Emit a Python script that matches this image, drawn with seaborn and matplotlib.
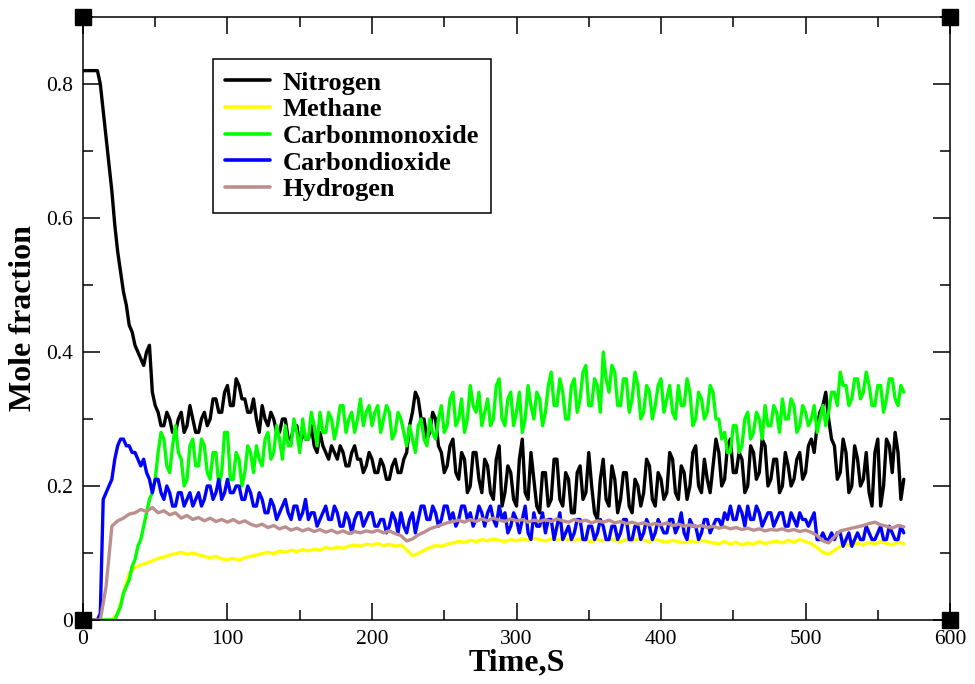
import numpy as np
import pandas as pd
import seaborn as sns
import matplotlib.pyplot as plt
from matplotlib.ticker import MultipleLocator, FuncFormatter

# noisy gases sampled every 2 s, smooth ones every 4 s (0..568 s)
time2 = np.arange(0, 570, 2)
time4 = np.arange(0, 572, 4)

nitrogen = [.82, .82, .82, .82, .82, .82, .80, .76, .72, .68, .64, .59, .55, .52, .49, .47, .44, .43, .41, .40,
            .39, .38, .40, .41, .34, .32, .31, .29, .29, .31, .30, .28, .28, .30, .31, .28, .29, .32, .30, .28,
            .28, .30, .31, .29, .30, .33, .33, .31, .31, .34, .35, .32, .32, .36, .35, .33, .33, .31, .31, .33,
            .30, .28, .32, .30, .29, .31, .30, .28, .28, .30, .30, .27, .27, .29, .29, .26, .28, .27, .27, .29,
            .26, .25, .28, .26, .25, .24, .26, .25, .24, .26, .25, .23, .23, .25, .26, .24, .24, .22, .23, .25,
            .24, .22, .22, .24, .23, .21, .21, .23, .24, .22, .22, .24, .25, .29, .31, .34, .33, .30, .30, .27,
            .28, .31, .30, .26, .25, .22, .23, .26, .27, .22, .21, .25, .24, .19, .20, .25, .25, .21, .19, .24,
            .23, .19, .18, .24, .26, .17, .19, .23, .22, .18, .17, .24, .27, .19, .18, .25, .21, .17, .16, .22,
            .22, .17, .18, .24, .24, .18, .17, .22, .21, .16, .16, .22, .23, .18, .19, .25, .20, .16, .15, .21,
            .24, .18, .17, .23, .21, .16, .18, .22, .22, .17, .16, .21, .20, .17, .19, .24, .23, .18, .17, .22,
            .21, .18, .19, .25, .24, .19, .18, .23, .22, .18, .20, .25, .26, .20, .19, .24, .21, .19, .23, .27,
            .25, .20, .21, .26, .27, .22, .22, .25, .24, .19, .20, .26, .25, .21, .22, .27, .26, .20, .21, .24,
            .24, .19, .20, .25, .23, .20, .21, .24, .25, .21, .22, .26, .27, .25, .29, .31, .32, .34, .30, .27,
            .26, .21, .22, .27, .25, .19, .20, .26, .24, .20, .21, .25, .19, .17, .25, .27, .17, .20, .27, .26,
            .22, .28, .25, .18, .21]

carbon_monoxide = [0, 0, 0, 0, 0, 0, 0, 0, 0, 0, 0, 0, .01, .02, .04, .05, .06, .08, .09, .11,
                   .12, .14, .16, .18, .19, .21, .25, .28, .27, .23, .22, .26, .29, .25, .24, .20, .21, .26, .27, .23,
                   .23, .27, .26, .22, .21, .25, .25, .20, .22, .28, .28, .21, .21, .25, .24, .20, .22, .26, .25, .22,
                   .26, .24, .23, .27, .28, .24, .25, .29, .27, .24, .29, .26, .26, .30, .28, .25, .30, .27, .27, .31,
                   .29, .26, .31, .28, .28, .31, .30, .27, .29, .32, .32, .28, .30, .31, .28, .30, .33, .29, .31, .32,
                   .29, .31, .32, .28, .30, .32, .31, .27, .28, .31, .30, .28, .26, .29, .27, .25, .29, .30, .27, .26,
                   .30, .28, .27, .30, .32, .28, .29, .33, .34, .29, .30, .33, .28, .30, .35, .32, .31, .34, .29, .31,
                   .33, .29, .30, .35, .36, .30, .29, .33, .34, .29, .31, .34, .28, .30, .35, .32, .30, .34, .33, .29,
                   .31, .35, .37, .32, .32, .36, .34, .30, .30, .35, .36, .31, .33, .37, .38, .32, .32, .36, .35, .31,
                   .40, .36, .34, .38, .37, .32, .32, .36, .36, .31, .33, .37, .35, .30, .31, .35, .34, .30, .32, .35,
                   .36, .31, .33, .35, .31, .30, .35, .32, .32, .36, .34, .29, .30, .34, .33, .30, .31, .35, .34, .30,
                   .30, .27, .28, .25, .25, .29, .29, .25, .26, .30, .31, .27, .28, .31, .30, .27, .32, .29, .29, .32,
                   .31, .28, .33, .30, .30, .33, .32, .28, .29, .32, .31, .29, .30, .32, .28, .30, .32, .29, .31, .34,
                   .34, .32, .37, .35, .35, .32, .33, .36, .36, .33, .34, .37, .35, .32, .32, .35, .35, .31, .33, .36,
                   .36, .33, .32, .35, .34]

carbon_dioxide = [0, 0, 0, 0, 0, 0, .01, .18, .19, .20, .21, .24, .26, .27, .27, .26, .26, .25, .25, .24,
                  .23, .24, .22, .21, .19, .21, .21, .19, .18, .20, .19, .17, .17, .19, .19, .17, .18, .19, .17, .18,
                  .19, .17, .18, .20, .20, .18, .19, .21, .18, .19, .21, .19, .19, .20, .20, .18, .18, .20, .19, .17,
                  .17, .19, .18, .16, .16, .18, .17, .15, .16, .17, .18, .16, .15, .17, .17, .15, .16, .18, .15, .16,
                  .16, .14, .15, .16, .17, .15, .15, .17, .16, .14, .14, .16, .15, .13, .15, .16, .16, .14, .15, .16,
                  .16, .14, .14, .15, .15, .13, .14, .16, .15, .13, .16, .14, .13, .15, .16, .13, .15, .17, .17, .15,
                  .15, .17, .16, .14, .15, .17, .17, .15, .16, .14, .15, .17, .17, .15, .16, .14, .15, .17, .16, .14,
                  .16, .17, .15, .14, .17, .15, .16, .13, .14, .16, .15, .13, .15, .17, .13, .12, .16, .14, .14, .16,
                  .13, .15, .15, .12, .14, .16, .12, .13, .14, .12, .13, .15, .15, .12, .12, .14, .14, .12, .13, .15,
                  .14, .12, .12, .14, .14, .12, .13, .15, .15, .12, .12, .14, .14, .12, .13, .15, .14, .12, .13, .15,
                  .14, .13, .13, .15, .15, .13, .14, .16, .13, .12, .15, .14, .14, .12, .13, .15, .15, .13, .14, .15,
                  .15, .14, .16, .15, .17, .15, .15, .17, .16, .14, .17, .15, .15, .17, .16, .14, .15, .16, .16, .14,
                  .15, .16, .16, .14, .14, .16, .15, .14, .16, .15, .15, .14, .15, .16, .12, .12, .13, .12, .12, .13,
                  .12, .13, .13, .11, .12, .13, .11, .12, .13, .12, .12, .14, .13, .12, .12, .13, .14, .12, .12, .14,
                  .13, .12, .12, .14, .13]

methane = [0, 0, 0, 0, 0, 0, .01, .04, .07, .078,
           .082, .085, .088, .092, .094, .097, .099, .101, .098, .100,
           .097, .095, .093, .095, .091, .090, .092, .089, .093, .095,
           .097, .099, .101, .099, .103, .101, .104, .102, .105, .103,
           .106, .104, .108, .106, .109, .107, .110, .112, .110, .113,
           .112, .114, .111, .113, .110, .112, .105, .096, .099, .104,
           .108, .111, .110, .113, .115, .117, .116, .119, .117, .120,
           .118, .121, .119, .117, .120, .118, .121, .119, .122, .120,
           .118, .121, .119, .122, .120, .118, .121, .119, .117, .120,
           .118, .121, .119, .117, .120, .118, .121, .119, .117, .120,
           .118, .116, .119, .117, .115, .118, .116, .119, .117, .115,
           .114, .117, .113, .116, .112, .115, .113, .117, .114, .116,
           .118, .115, .119, .116, .120, .117, .114, .108, .101, .098,
           .104, .110, .113, .111, .115, .112, .116, .113, .117, .114,
           .112, .116, .114]

hydrogen = [0, 0, 0, 0, .05, .140, .148, .152, .158, .160,
            .165, .162, .168, .160, .163, .157, .160, .152, .156, .150,
            .153, .148, .152, .147, .150, .146, .150, .145, .148, .143,
            .140, .143, .138, .141, .136, .139, .134, .137, .133, .136,
            .132, .135, .131, .134, .130, .133, .129, .132, .130, .133,
            .131, .134, .130, .133, .129, .126, .118, .121, .127, .131,
            .136, .139, .142, .145, .147, .149, .146, .150, .147, .151,
            .148, .152, .149, .147, .151, .148, .150, .146, .149, .147,
            .150, .147, .151, .148, .146, .150, .147, .149, .145, .148,
            .146, .149, .145, .147, .144, .146, .143, .145, .142, .144,
            .142, .145, .141, .143, .140, .142, .139, .141, .138, .140,
            .137, .139, .136, .138, .135, .137, .134, .136, .133, .135,
            .134, .136, .133, .135, .132, .134, .131, .126, .118, .115,
            .124, .133, .135, .137, .139, .141, .144, .146, .142, .140,
            .137, .141, .139]

gases = ['Nitrogen', 'Methane', 'Carbonmonoxide', 'Carbondioxide', 'Hydrogen']
colors = ['black', '#ffff00', '#00ff00', '#0000ff', '#bc8f8f']
series = [(time2, nitrogen), (time4, methane), (time2, carbon_monoxide),
          (time2, carbon_dioxide), (time4, hydrogen)]

df = pd.concat([pd.DataFrame({'time': t, 'frac': vals, 'gas': g})
                for g, (t, vals) in zip(gases, series)], ignore_index=True)

sns.set_theme(style='ticks')
plt.rcParams['font.family'] = ['Liberation Serif', 'DejaVu Serif']
plt.rcParams['text.color'] = 'black'
plt.rcParams['axes.labelcolor'] = 'black'
plt.rcParams['xtick.color'] = 'black'
plt.rcParams['ytick.color'] = 'black'

fig = plt.figure(figsize=(9.75, 6.84), dpi=100)
ax = fig.add_axes([0.0851, 0.0936, 0.8893, 0.8815])

sns.lineplot(data=df, x='time', y='frac', hue='gas', palette=colors,
             estimator=None, linewidth=2.4, ax=ax)

ax.set_xlim(0, 600)
ax.set_ylim(0, 0.9)
ax.xaxis.set_major_locator(MultipleLocator(100))
ax.xaxis.set_minor_locator(MultipleLocator(50))
ax.yaxis.set_major_locator(MultipleLocator(0.2))
ax.yaxis.set_minor_locator(MultipleLocator(0.1))
ax.yaxis.set_major_formatter(FuncFormatter(lambda v, p: '0' if abs(v) < 1e-9 else f'{v:.1f}'))
ax.tick_params(which='both', direction='in', top=True, right=True,
               width=1.1, colors='black', labelsize=15.5)
ax.tick_params(which='major', length=12, pad=7)
ax.tick_params(which='minor', length=7)
for s in ax.spines.values():
    s.set_linewidth(1.1)
    s.set_color('black')

ax.set_xlabel('Time,S', fontsize=23, fontweight='bold', labelpad=0)
ax.set_ylabel('Mole fraction', fontsize=23, fontweight='bold', labelpad=6)

# corner squares
ax.plot([0, 1, 0, 1], [0, 0, 1, 1], 's', color='black', markersize=12,
        transform=ax.transAxes, clip_on=False, zorder=5)

leg = ax.legend(loc='upper left', bbox_to_anchor=(0.150, 0.930), frameon=True,
                fancybox=False, edgecolor='black', framealpha=1,
                prop={'weight': 'bold', 'size': 19}, handlelength=1.7,
                labelspacing=0.12, borderpad=0.45, handletextpad=0.5,
                borderaxespad=0)
leg.get_frame().set_linewidth(1.1)
for line in leg.get_lines():
    line.set_linewidth(2.6)

fig.savefig('out.png', dpi=100)
